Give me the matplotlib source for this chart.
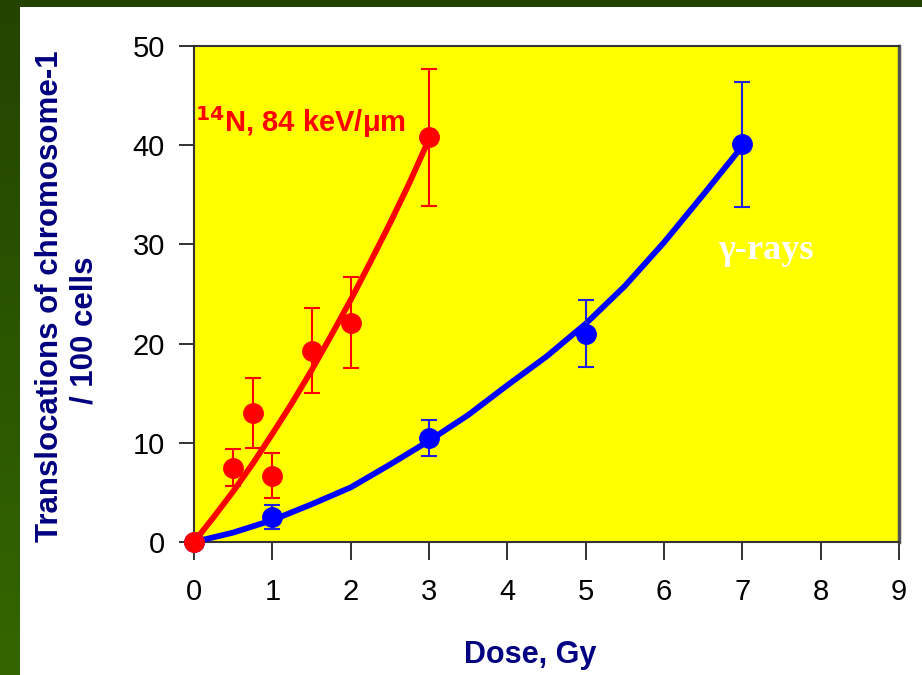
import matplotlib
matplotlib.use("Agg")
import matplotlib.pyplot as plt
import numpy as np
from matplotlib.colors import LinearSegmentedColormap

# ---- data ----
n_dose = [0.0, 0.5, 0.75, 1.0, 1.5, 2.0, 3.0]
n_trans = [0.0, 7.5, 13.0, 6.7, 19.3, 22.1, 40.8]
n_err = [0.0, 1.9, 3.5, 2.3, 4.3, 4.6, 6.9]

g_dose = [0.0, 1.0, 3.0, 5.0, 7.0]
g_trans = [0.0, 2.5, 10.5, 21.0, 40.1]
g_err = [0.0, 1.2, 1.8, 3.4, 6.3]

n_fit_dose = [0.0, 0.25, 0.5, 0.75, 1.0, 1.25, 1.5, 1.75, 2.0, 2.25, 2.5, 2.75, 3.0]
n_fit_val = [0.0, 2.5, 5.1, 7.9, 10.9, 14.0, 17.3, 20.8, 24.4, 28.2, 32.1, 36.2, 40.6]

g_fit_dose = [0.0, 0.5, 1.0, 1.5, 2.0, 2.5, 3.0, 3.5, 4.0, 4.5, 5.0, 5.5, 6.0, 6.5, 7.0]
g_fit_val = [0.0, 0.95, 2.2, 3.8, 5.5, 7.8, 10.2, 12.8, 15.8, 18.7, 22.0, 25.8, 30.2, 35.0, 39.9]

x_ticks = [0, 1, 2, 3, 4, 5, 6, 7, 8, 9]
y_ticks = [0, 10, 20, 30, 40, 50]

plt.rcParams['font.family'] = ['Liberation Sans', 'DejaVu Sans']

W, H = 922, 675
fig = plt.figure(figsize=(W / 100, H / 100), dpi=100)
fig.patch.set_facecolor('white')

# green border (left gradient + top band)
bg = fig.add_axes([0, 0, 1, 1], zorder=-10)
bg.set_xlim(0, W)
bg.set_ylim(H, 0)
bg.axis('off')
grad = np.linspace(0, 1, 256).reshape(-1, 1)
cm = LinearSegmentedColormap.from_list('g', ['#234400', '#336600'])
bg.imshow(grad, cmap=cm, extent=[0, 19, H, 0], aspect='auto')
bg.add_patch(plt.Rectangle((0, 0), W, 7, color='#234400', lw=0))

ax = fig.add_axes([194 / W, (H - 542) / H, (899 - 194) / W, (542 - 46) / H])
ax.set_facecolor('#FFFF00')
ax.set_xlim(0, 9)
ax.set_ylim(0, 50)

# fits
ax.plot(g_fit_dose, g_fit_val, color='#0000FF', lw=4.2, solid_capstyle='round',
        solid_joinstyle='round', zorder=3)
ax.plot(n_fit_dose, n_fit_val, color='#FF0000', lw=4.2, solid_capstyle='round',
        solid_joinstyle='round', zorder=3)

# points with error bars
ax.errorbar(g_dose, g_trans, yerr=g_err, fmt='o', color='#0000FF', ecolor='#2020E0',
            ms=14, elinewidth=1.5, capsize=6, capthick=1.5, clip_on=False, zorder=4)
ax.errorbar(n_dose, n_trans, yerr=n_err, fmt='o', color='#FF0000', ecolor='#FF0000',
            ms=14, elinewidth=1.5, capsize=6, capthick=1.5, clip_on=False, zorder=5)

ax.set_xticks(x_ticks)
ax.set_yticks(y_ticks)
ax.tick_params(axis='x', direction='out', length=13, width=1.3, color='#222222',
               labelsize=21, labelcolor='black', pad=13)
ax.tick_params(axis='y', direction='out', length=11, width=1.3, color='#222222',
               labelsize=21, labelcolor='black', pad=10)
for s in ax.spines.values():
    s.set_color('#333333')
    s.set_linewidth(1.5)
ax.spines['right'].set_color('#555555')
ax.spines['right'].set_linewidth(2.5)

fig.text(530 / W, 1 - 655 / H, 'Dose, Gy', ha='center', va='center',
         fontsize=22, fontweight='bold', color='#000080')
fig.text(50 / W, 1 - 296 / H, 'Translocations of chromosome-1', rotation=90,
         ha='center', va='center', fontsize=22.5, fontweight='bold', color='#000080')
fig.text(84 / W, 1 - 330 / H, '/ 100 cells', rotation=90,
         ha='center', va='center', fontsize=22.5, fontweight='bold', color='#000080')

ax.text(0.002, 0.846, r'$^{\mathbf{14}}$N, 84 keV/μm', transform=ax.transAxes,
        fontsize=21, fontweight='bold', color='#FF0000', ha='left', va='center')
ax.text(7.3, 29.4, 'γ-rays', fontsize=26, fontweight='bold', color='white',
        family=['Liberation Serif', 'DejaVu Serif'], ha='center', va='center')

fig.savefig('out.png', dpi=100, facecolor=fig.get_facecolor())
